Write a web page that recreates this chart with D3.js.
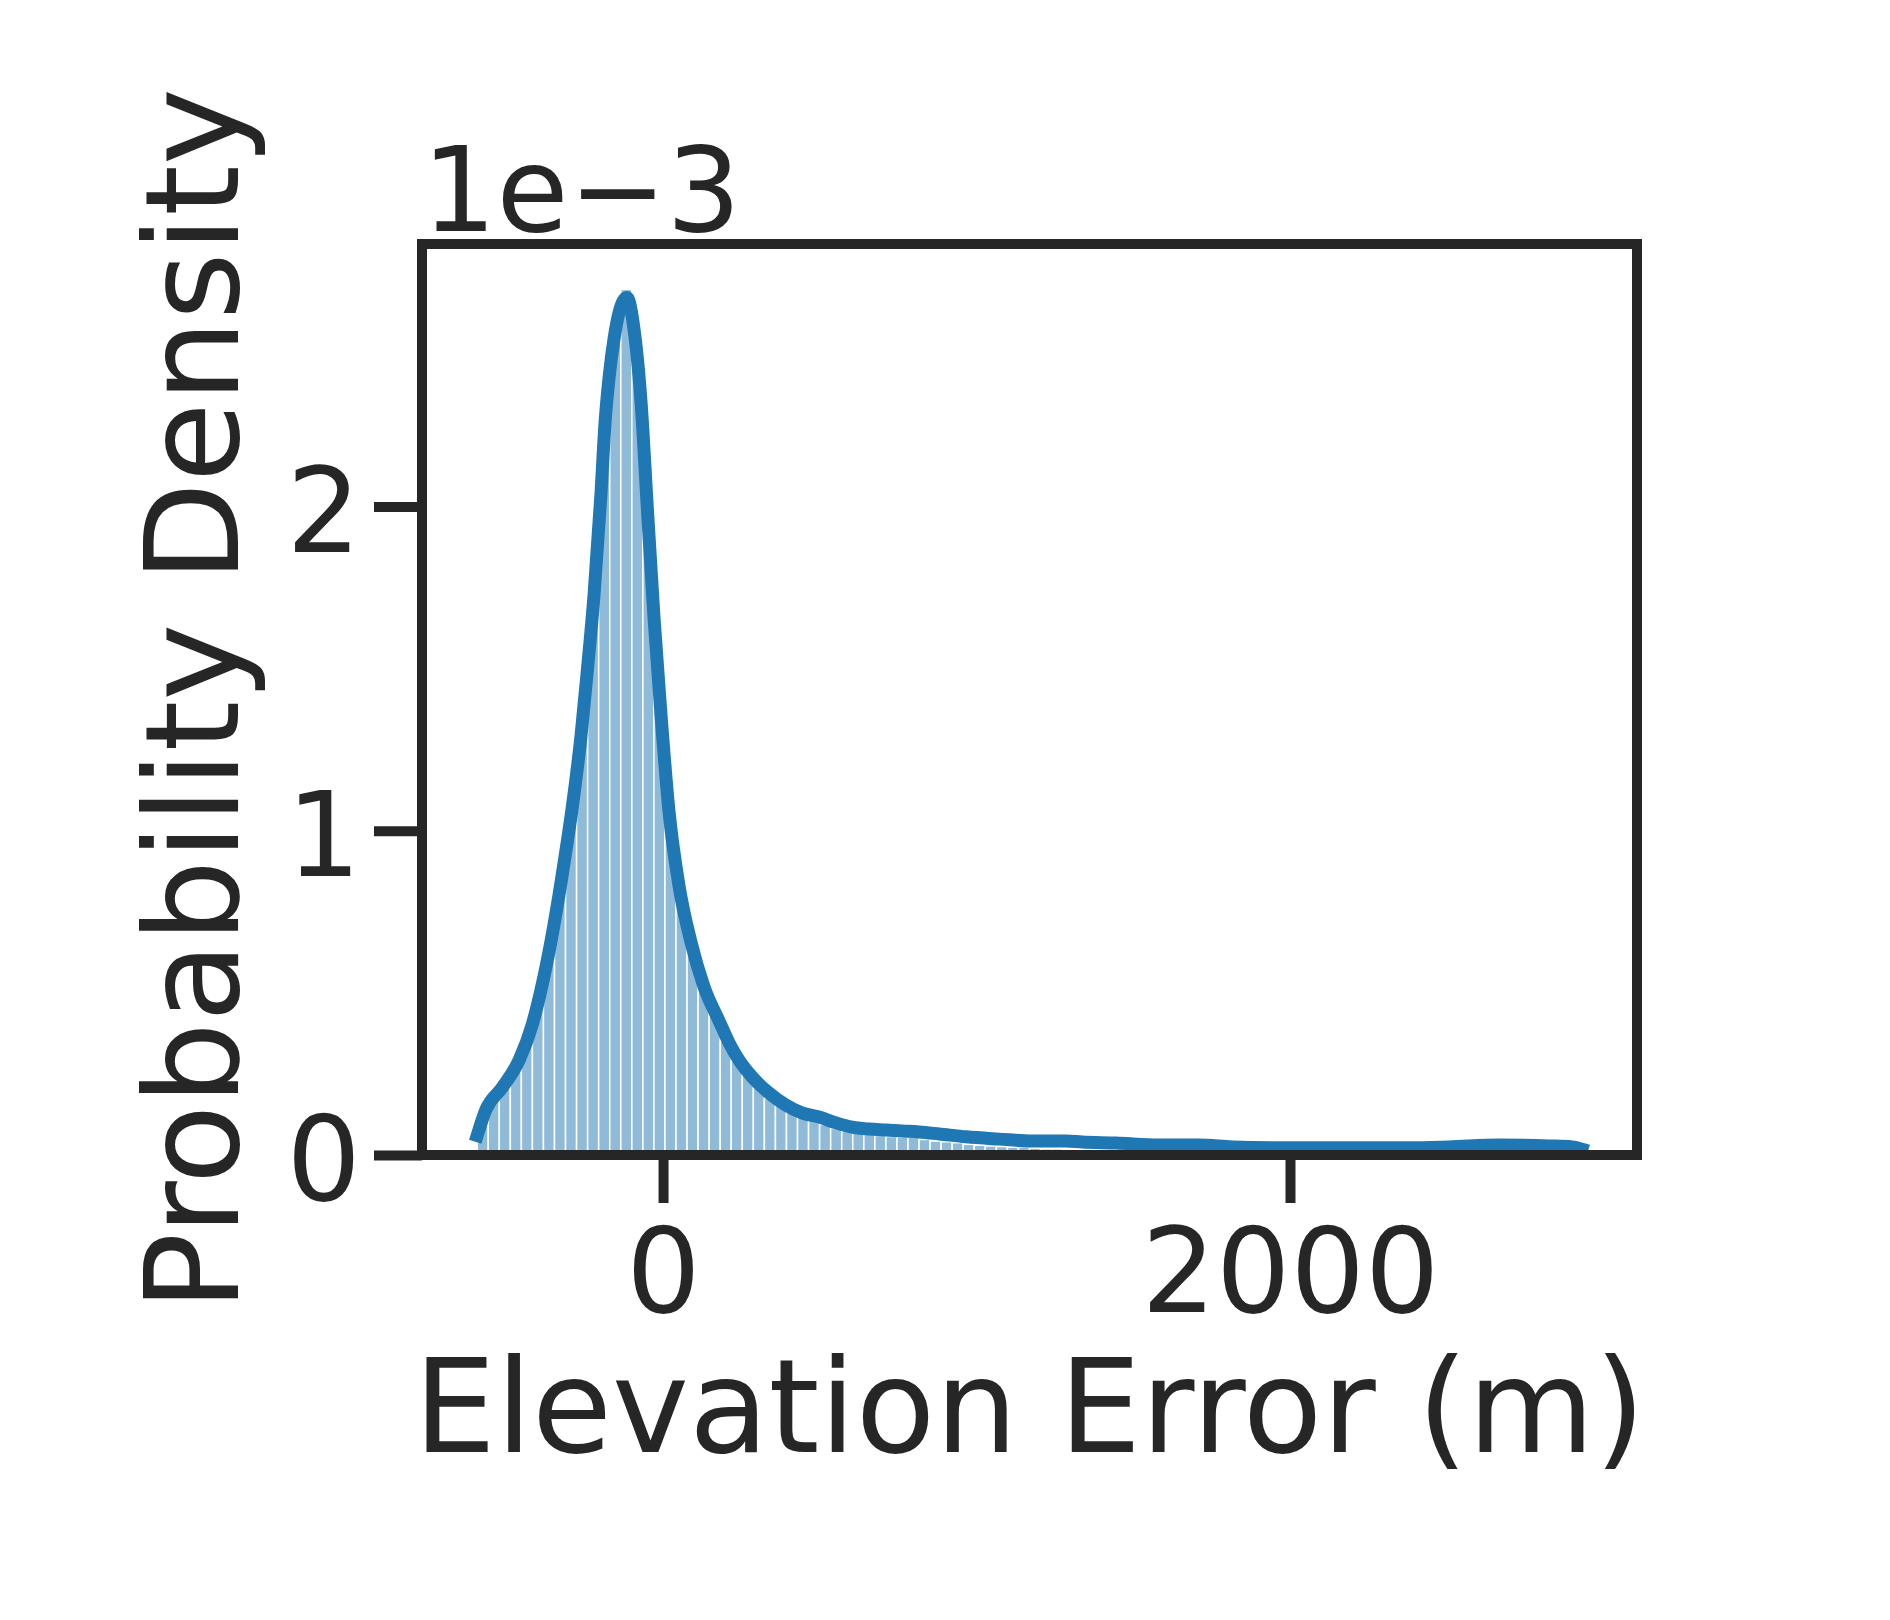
<!DOCTYPE html>
<html>
<head>
<meta charset="utf-8">
<script src="https://cdn.jsdelivr.net/npm/d3@7"></script>
<style>
  body { margin: 0; background: #fff; }
  svg { display: block; font-family: "DejaVu Sans", sans-serif; }
</style>
</head>
<body>
<div id="elevation-error-hist"></div>
<script>
// histogram bins (metres)
var binStart = -593,
    binWidth = 35.24;

// bar heights, probability density in units of 1e-3
var binDensity = [
  0.11, 0.17, 0.21, 0.27, 0.35, 0.46, 0.60, 0.79, 1.02, 1.30,
  1.69, 2.25, 2.57, 2.67, 2.46, 1.95, 1.43, 1.03, 0.79, 0.64,
  0.52, 0.44, 0.35, 0.29, 0.245, 0.205, 0.175, 0.152, 0.134, 0.118,
  0.108, 0.094, 0.082, 0.073, 0.068, 0.064, 0.060, 0.057, 0.055, 0.055,
  0.048, 0.043, 0.041, 0.038, 0.033, 0.030, 0.028, 0.026, 0.024, 0.024,
  0.021, 0.019, 0.019, 0.018, 0.015, 0.015, 0.015, 0.013, 0.012, 0.012,
  0.011, 0.010, 0.010, 0.009, 0.009, 0.008, 0.008, 0.008, 0.007, 0.007,
  0.007, 0.006, 0.006, 0.006, 0.006, 0.005, 0.005, 0.005, 0.005, 0.004,
  0.004, 0.004, 0.004, 0.004, 0.004, 0.005, 0.005, 0.006, 0.006, 0.006,
  0.005, 0.005, 0.004, 0.004, 0.004, 0.004, 0.003, 0.003, 0.003, 0.004
];

// kde curve: error (m) and density (1e-3)
var kdeX = [
  -593, -565, -514, -459, -418, -380, -348, -316, -290, -262,
  -242, -220, -198, -185, -172, -156, -140, -115, -93, -70,
  -51, -29, -6, 19, 51, 89, 131, 179, 211, 242,
  284, 338, 392, 443, 498, 552, 603, 657, 711, 762,
  817, 880, 967, 1072, 1177, 1285, 1337, 1445, 1582, 1710,
  1815, 1974, 2188, 2380, 2507, 2667, 2826, 2900, 2931
];
var kdeY = [
  0.06, 0.14, 0.207, 0.293, 0.40, 0.55, 0.71, 0.90, 1.07, 1.29,
  1.49, 1.73, 2.04, 2.26, 2.40, 2.52, 2.60, 2.645, 2.55, 2.32,
  2.01, 1.66, 1.35, 1.06, 0.83, 0.657, 0.518, 0.413, 0.345, 0.293,
  0.241, 0.191, 0.154, 0.130, 0.117, 0.099, 0.086, 0.080, 0.077, 0.074,
  0.071, 0.065, 0.056, 0.049, 0.043, 0.043, 0.040, 0.037, 0.031, 0.031,
  0.025, 0.022, 0.022, 0.022, 0.025, 0.031, 0.028, 0.025, 0.018
];

var xTicks = [0, 2000],
    yTicks = [0, 1, 2];

// layout
var width = 1890,
    height = 1620,
    plot = { left: 422, right: 1637, top: 244, bottom: 1155 },
    ink = "#262626",
    blue = "#1f77b4";

var x = d3.scaleLinear().domain([-769, 3107]).range([plot.left, plot.right]),
    y = d3.scaleLinear().domain([0, 2.81]).range([plot.bottom, plot.top]);

var svg = d3.select("#elevation-error-hist")
  .append("svg")
  .attr("width", width)
  .attr("height", height);

// bars
var bins = binDensity.map(function(d, i) {
  return { x0: binStart + i * binWidth, x1: binStart + (i + 1) * binWidth, value: d };
});

svg.append("g")
  .selectAll("rect")
  .data(bins)
  .enter().append("rect")
  .attr("x", function(d) { return x(d.x0); })
  .attr("width", function(d) { return x(d.x1) - x(d.x0); })
  .attr("y", function(d) { return y(d.value); })
  .attr("height", function(d) { return y(0) - y(d.value); })
  .attr("fill", blue)
  .attr("fill-opacity", 0.5)
  .attr("stroke", "#fff")
  .attr("stroke-width", 1.5);

// kde line
var kde = kdeX.map(function(d, i) { return [d, kdeY[i]]; });

var line = d3.line()
  .curve(d3.curveMonotoneX)
  .x(function(d) { return x(d[0]); })
  .y(function(d) { return y(d[1]); });

svg.append("path")
  .datum(kde)
  .attr("d", line)
  .attr("fill", "none")
  .attr("stroke", blue)
  .attr("stroke-width", 13)
  .attr("stroke-linecap", "square")
  .attr("stroke-linejoin", "round");

// axes
var xAxis = svg.append("g")
  .attr("transform", "translate(0," + plot.bottom + ")")
  .call(d3.axisBottom(x).tickValues(xTicks).tickFormat(d3.format("d")).tickSize(48).tickPadding(26));

var yAxis = svg.append("g")
  .attr("transform", "translate(" + plot.left + ",0)")
  .call(d3.axisLeft(y).tickValues(yTicks).tickFormat(d3.format("d")).tickSize(48).tickPadding(13));

[xAxis, yAxis].forEach(function(g) {
  g.select(".domain").remove();
  g.selectAll(".tick line").attr("stroke", ink).attr("stroke-width", 10);
  g.selectAll(".tick text")
    .attr("fill", ink)
    .style("font-size", "117px")
    .style("font-family", "DejaVu Sans");
});
yAxis.selectAll(".tick text").attr("dy", "0.38em");

// frame
svg.append("rect")
  .attr("x", plot.left)
  .attr("y", plot.top)
  .attr("width", plot.right - plot.left)
  .attr("height", plot.bottom - plot.top)
  .attr("fill", "none")
  .attr("stroke", ink)
  .attr("stroke-width", 10);

// offset text and labels
svg.append("text")
  .attr("x", plot.left)
  .attr("y", 231)
  .attr("fill", ink)
  .style("font-size", "117px")
  .text("1e\u22123");

svg.append("text")
  .attr("x", (plot.left + plot.right) / 2)
  .attr("y", 1452)
  .attr("text-anchor", "middle")
  .attr("fill", ink)
  .style("font-size", "130px")
  .text("Elevation Error (m)");

svg.append("text")
  .attr("transform", "translate(238," + (plot.top + plot.bottom) / 2 + ") rotate(-90)")
  .attr("text-anchor", "middle")
  .attr("fill", ink)
  .style("font-size", "130px")
  .text("Probability Density");
</script>
</body>
</html>
